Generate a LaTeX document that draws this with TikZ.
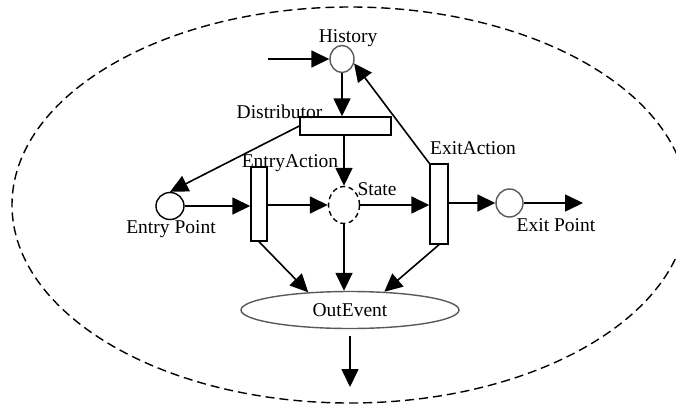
\documentclass[tikz,border=0pt]{standalone}
\usepackage{fontspec}
\setmainfont{Liberation Serif}
\usetikzlibrary{arrows.meta,shapes.geometric}

\tikzset{
  txt/.style={font=\fontsize{19.5}{22}\selectfont, inner sep=0pt, anchor=base},
  place/.style={ellipse, draw=black!65, line width=1.4pt, inner sep=0pt},
  entryplace/.style={ellipse, draw=black, line width=1.4pt, inner sep=0pt},
  stateplace/.style={ellipse, draw=black, line width=1.4pt, inner sep=0pt,
                     dash pattern=on 5pt off 3.5pt},
  bar/.style={rectangle, draw=black, line width=1.4pt, inner sep=0pt, fill=white},
  flow/.style={line width=1.6pt, -{Triangle[length=18pt,width=17pt]}},
  boundary/.style={line width=1.4pt, dash pattern=on 9pt off 5pt},
}

\begin{document}
\begin{tikzpicture}[x=1pt,y=-1pt]
  \useasboundingbox (0,0) rectangle (676,404);
  \clip (0,0) rectangle (676,404);

  % enclosing boundary of the state machine
  \draw[boundary] (350,205) ellipse [x radius=338, y radius=198];

  % places and transitions
  \node[place, minimum width=24pt, minimum height=27pt] (hist) at (342,59) {};
  \node[bar, minimum width=91pt, minimum height=18pt] (dist) at (345.5,126) {};
  \node[entryplace, minimum width=28pt, minimum height=27pt] (entry) at (170,206) {};
  \node[bar, minimum width=16pt, minimum height=74pt] (eact) at (259,204) {};
  \node[stateplace, minimum width=31pt, minimum height=37pt] (state) at (344,205) {};
  \node[bar, minimum width=18pt, minimum height=80pt] (xact) at (439,204) {};
  \node[place, minimum width=27pt, minimum height=28pt] (exitp) at (509.5,203) {};
  \node[place, minimum width=218pt, minimum height=37pt,
        font=\fontsize{19.5}{22}\selectfont] (out) at (350,310) {OutEvent};

  % free ends of the in/out connectors
  \coordinate (hin) at (268,59);
  \coordinate (xout) at (583,203);
  \coordinate (oend) at (350,387);

  % labels
  \node[txt] (lhist)  at (348,43)  {History};
  \node[txt] (ldist)  at (279.5,118) {Distributor};
  \node[txt] (leact)  at (290,167) {EntryAction};
  \node[txt] (lstate) at (377,195) {State};
  \node[txt] (lentry) at (171,233) {Entry Point};
  \node[txt] (lxact)  at (473,154) {ExitAction};
  \node[txt] (lexit)  at (556,231) {Exit Point};

  % connectors
  \draw[flow] (hin) -- (hist.west);
  \draw[flow] (hist.south) -- (hist.south |- dist.north);
  \draw[flow] (dist.west) -- (entry.north);
  \draw[flow] (entry.east) -- (entry.east -| eact.west);
  \draw[flow] (eact.east |- state.west) -- (state.west);
  \draw[flow] (state.north |- dist.south) -- (state.north);
  \draw[flow] (state.east) -- (state.east -| xact.west);
  \draw[flow] (xact.north west) -- (hist.-20);
  \draw[flow] (xact.east |- exitp.west) -- (exitp.west);
  \draw[flow] (exitp.east) -- (xout);
  \draw[flow] (eact.south) -- (out.157);
  \draw[flow] (state.south) -- (state.south |- out.north);
  \draw[flow] (xact.south) -- (out.28);
  \draw[flow, shorten <=7pt] (out.south) -- (oend);
\end{tikzpicture}
\end{document}
